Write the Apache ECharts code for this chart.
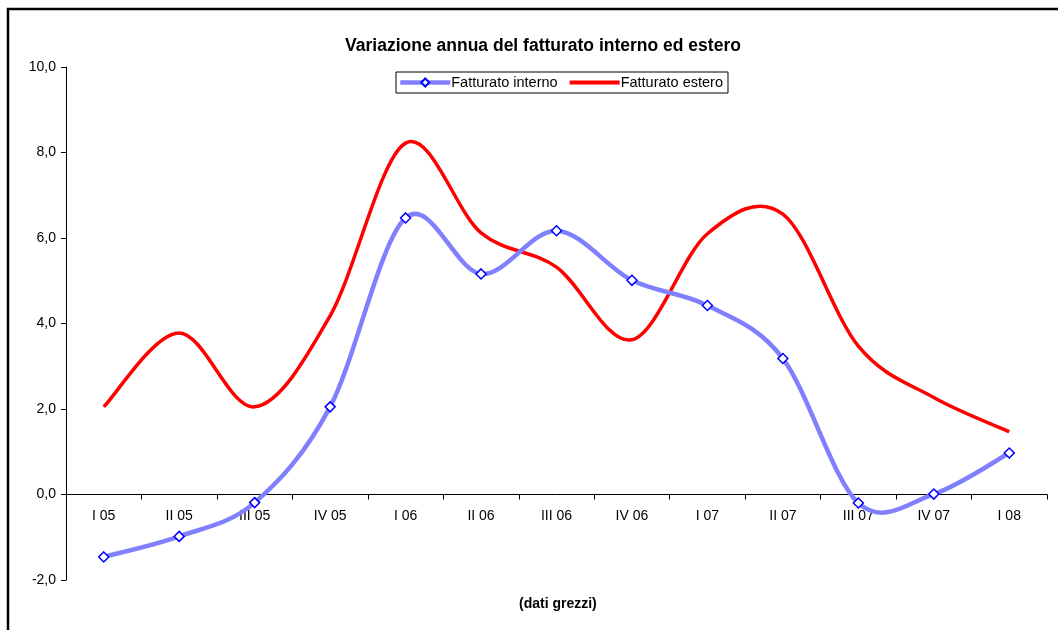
<!DOCTYPE html>
<html>
<head>
<meta charset="utf-8">
<script src="https://cdn.jsdelivr.net/npm/echarts@6/dist/echarts.min.js"></script>
<style>
html,body{margin:0;padding:0;background:#fff;}
#chart{width:1058px;height:630px;}
</style>
</head>
<body>
<div id="chart"></div>
<script>
var categories = ['I 05','II 05','III 05','IV 05','I 06','II 06','III 06','IV 06','I 07','II 07','III 07','IV 07','I 08'];
var fatturatoInterno = [-1.46, -0.98, -0.19, 2.05, 6.47, 5.16, 6.17, 5.01, 4.42, 3.18, -0.20, 0.01, 0.97];
var fatturatoEstero = [2.05, 3.78, 2.05, 4.18, 8.22, 6.12, 5.32, 3.62, 6.1, 6.56, 3.47, 2.27, 1.47];
var yTicks = {min: -2, max: 10, interval: 2};

// Excel-like smoothed curve (Catmull-Rom -> cubic Bezier) through the points, positioned via the axes
function smoothRenderer(values, color, width) {
  return function (params, api) {
    if (params.dataIndex !== 0) return null;
    var pts = values.map(function (v, i) { return api.coord([i, v]); });
    var d = 'M' + pts[0][0] + ',' + pts[0][1];
    for (var i = 0; i < pts.length - 1; i++) {
      var p0 = pts[i - 1] || pts[i], p1 = pts[i], p2 = pts[i + 1], p3 = pts[i + 2] || pts[i + 1];
      var c1x = p1[0] + (p2[0] - p0[0]) / 6, c1y = p1[1] + (p2[1] - p0[1]) / 6;
      var c2x = p2[0] - (p3[0] - p1[0]) / 6, c2y = p2[1] - (p3[1] - p1[1]) / 6;
      d += 'C' + c1x + ',' + c1y + ',' + c2x + ',' + c2y + ',' + p2[0] + ',' + p2[1];
    }
    return {
      type: 'path',
      shape: {pathData: d},
      style: {fill: 'none', stroke: color, lineWidth: width, lineJoin: 'round', lineCap: 'butt'},
      silent: true
    };
  };
}

var chart = echarts.init(document.getElementById('chart'));
var font = 'Arial, "Liberation Sans", sans-serif';
chart.setOption({
  animation: false,
  textStyle: {fontFamily: font},
  title: {
    text: 'Variazione annua del fatturato interno ed estero',
    left: 538, top: 32, textAlign: 'center',
    textStyle: {fontSize: 17.5, fontWeight: 'bold', color: '#000', fontFamily: font}
  },
  graphic: [
    {type: 'rect', shape: {x: 8, y: 9, width: 1200, height: 800}, style: {fill: 'none', stroke: '#000', lineWidth: 2.5}, silent: true},
    {type: 'text', left: 519, top: 597, style: {text: '(dati grezzi)', font: 'bold 14px Arial, "Liberation Sans", sans-serif', fill: '#000'}}
  ],
  legend: {
    left: 396, top: 72,
    padding: [3, 5, 3, 2],
    itemGap: 10,
    itemWidth: 50, itemHeight: 10,
    borderColor: '#000', borderWidth: 1,
    textStyle: {fontSize: 14.5, color: '#000', fontFamily: font, padding: [0,0,0,-4]},
    data: [
      {name: 'Fatturato interno', lineStyle: {width: 4.5, opacity: 1}},
      {name: 'Fatturato estero', lineStyle: {width: 4, opacity: 1}, itemStyle: {opacity: 0}}
    ]
  },
  grid: {left: 66, right: 11, top: 67, bottom: 50, containLabel: false},
  xAxis: {
    type: 'category',
    data: categories,
    boundaryGap: true,
    axisLine: {onZero: true, lineStyle: {color: '#000', width: 1}},
    axisTick: {show: true, length: 5, lineStyle: {color: '#000'}},
    axisLabel: {color: '#000', fontSize: 14, margin: -71, fontFamily: font},
    splitLine: {show: false}
  },
  yAxis: {
    type: 'value',
    min: yTicks.min, max: yTicks.max, interval: yTicks.interval,
    axisLine: {show: true, lineStyle: {color: '#000', width: 1}},
    axisTick: {show: true, length: 5, lineStyle: {color: '#000'}},
    axisLabel: {color: '#000', fontSize: 14, margin: 10, fontFamily: font,
      formatter: function (v) { return v.toFixed(1).replace('.', ','); }},
    splitLine: {show: false}
  },
  series: [
    {
      name: 'curva estero', type: 'custom', data: fatturatoEstero.map(function (v, i) { return [i, v]; }),
      renderItem: smoothRenderer(fatturatoEstero, '#FF0000', 3.5),
      silent: true, z: 2
    },
    {
      name: 'curva interno', type: 'custom', data: fatturatoInterno.map(function (v, i) { return [i, v]; }),
      renderItem: smoothRenderer(fatturatoInterno, '#8080FF', 4.5),
      silent: true, z: 3
    },
    {
      name: 'Fatturato interno', type: 'line', data: fatturatoInterno,
      symbol: 'diamond', symbolSize: 10, showAllSymbol: true,
      lineStyle: {color: '#8080FF', width: 4.5, opacity: 0},
      itemStyle: {color: '#fff', borderColor: '#0000FF', borderWidth: 1.5},
      z: 4
    },
    {
      name: 'Fatturato estero', type: 'line', data: fatturatoEstero,
      symbol: 'circle', showSymbol: false,
      lineStyle: {color: '#FF0000', width: 3.5, opacity: 0},
      itemStyle: {color: '#FF0000'},
      z: 2
    }
  ]
});
</script>
</body>
</html>
